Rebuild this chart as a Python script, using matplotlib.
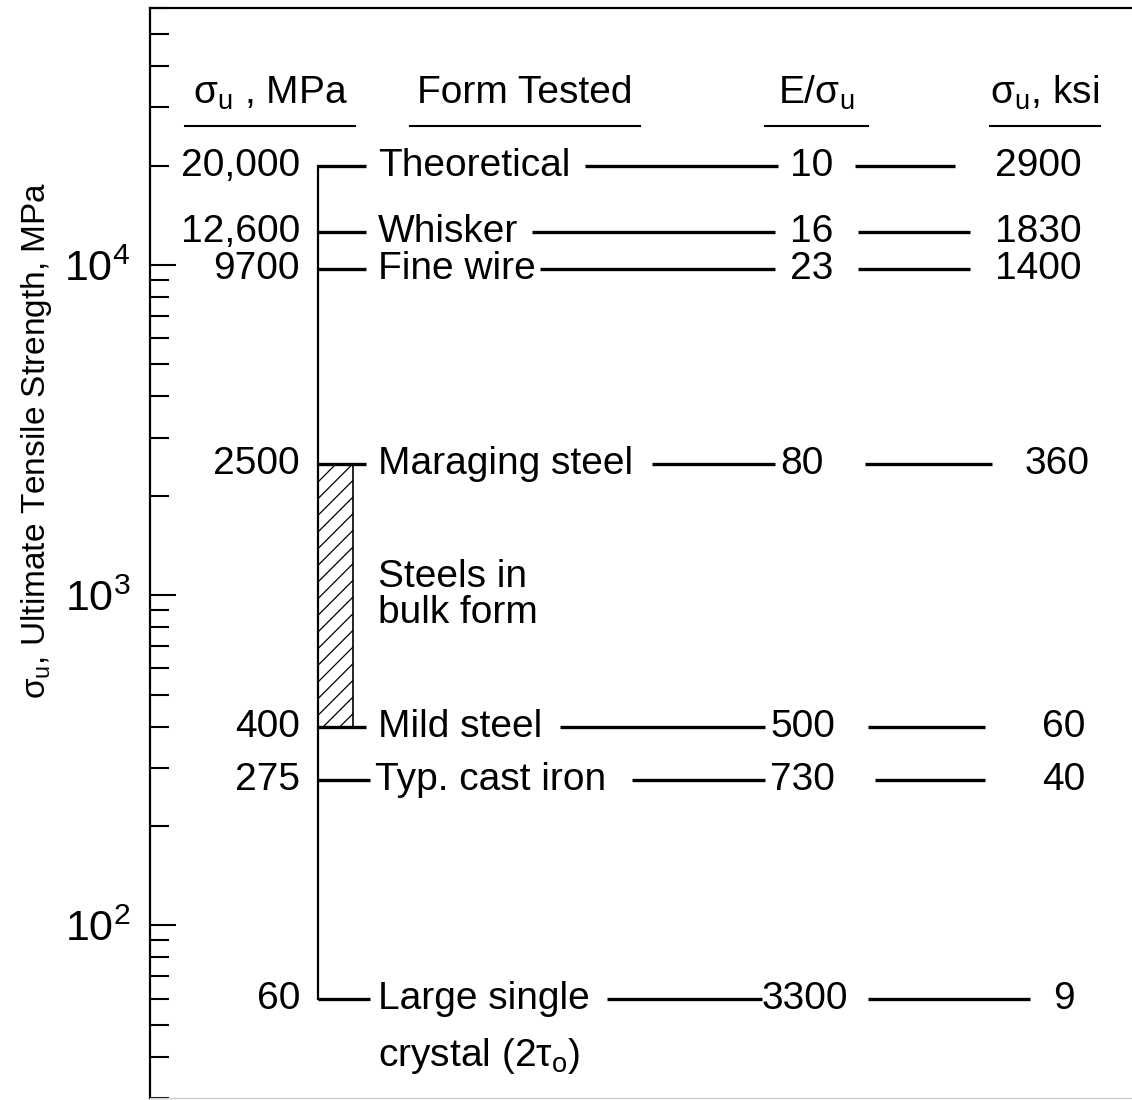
import matplotlib.pyplot as plt
from matplotlib.ticker import LogLocator, FixedLocator, FuncFormatter, NullFormatter
import numpy as np

plt.rcParams['font.family'] = ['Liberation Sans', 'DejaVu Sans']
plt.rcParams['mathtext.fontset'] = 'custom'
plt.rcParams['mathtext.rm'] = 'Liberation Sans'
plt.rcParams['mathtext.it'] = 'Liberation Sans:italic'
plt.rcParams['mathtext.bf'] = 'Liberation Sans:bold'
plt.rcParams['hatch.linewidth'] = 0.9

# data
forms = ['Theoretical', 'Whisker', 'Fine wire', 'Maraging steel',
         'Mild steel', 'Typ. cast iron', 'Large single']
sigma_mpa = [20000, 12600, 9700, 2500, 400, 275, 60]
mpa_labels = ['20,000', '12,600', '9700', '2500', '400', '275', '60']
e_ratio = ['10', '16', '23', '80', '500', '730', '3300']
sigma_ksi = ['2900', '1830', '1400', '360', '60', '40', '9']
bulk_range = [400, 2500]

# layout (x in image pixels)
seg1 = [(585, 778), (532, 775), (540, 775), (652, 775), (560, 765), (632, 765), (607, 762)]
e_x = [790, 790, 790, 780, 770, 770, 762]
seg2 = [(855, 955), (858, 970), (858, 970), (865, 992), (868, 985), (875, 985), (868, 1030)]
ksi_x = [1082, 1082, 1082, 1090, 1085, 1085, 1075]

W, H = 1132, 1100
fig = plt.figure(figsize=(W / 100, H / 100), dpi=100)
ax = fig.add_axes([150 / W, 2 / H, 1 - 150 / W, 1090 / H])
ax.set_yscale('log')
ax.set_ylim(30, 6e4)
ax.set_xlim(150, W)
ax.xaxis.set_visible(False)

for s in ['left', 'top']:
    ax.spines[s].set_linewidth(1.6)
ax.spines['right'].set_visible(False)
ax.spines['bottom'].set_color('#cccccc')
ax.spines['bottom'].set_linewidth(1.0)

ax.yaxis.set_major_locator(FixedLocator([1e2, 1e3, 1e4]))
ax.yaxis.set_major_formatter(FuncFormatter(lambda v, p: '$10^{%d}$' % round(np.log10(v))))
ax.yaxis.set_minor_locator(LogLocator(base=10, subs=range(2, 10)))
ax.yaxis.set_minor_formatter(NullFormatter())
ax.tick_params(axis='y', which='major', direction='in', length=19, width=1.5,
               labelsize=31, pad=14)
ax.tick_params(axis='y', which='minor', direction='in', length=14, width=1.5)

fs = 28
xline = 318

# main vertical line and stubs
ax.plot([xline, xline], [min(sigma_mpa), max(sigma_mpa)], color='black', lw=1.6)
ax.fill_betweenx(bulk_range, xline, 353, facecolor='white', edgecolor='black',
                 hatch='//', lw=1.2)

for i, v in enumerate(sigma_mpa):
    stub_end = 366 if i < 5 else 370
    ax.plot([xline, stub_end], [v, v], color='black', lw=2.4, solid_capstyle='butt')
    ax.text(300, v, mpa_labels[i], ha='right', va='center', fontsize=fs)
    name_x = 375 if forms[i].startswith('Typ') else 378
    ax.text(name_x, v, forms[i], ha='left', va='center', fontsize=fs)
    ax.plot(seg1[i], [v, v], color='black', lw=2.4, solid_capstyle='butt')
    ax.text(e_x[i], v, e_ratio[i], ha='left', va='center', fontsize=fs)
    ax.plot(seg2[i], [v, v], color='black', lw=2.4, solid_capstyle='butt')
    ax.text(ksi_x[i], v, sigma_ksi[i], ha='right', va='center', fontsize=fs)

ax.annotate('crystal (2τ$_\\mathrm{o}$)', xy=(378, sigma_mpa[-1]), xytext=(0, -41),
            textcoords='offset points', ha='left', va='center', fontsize=fs)
ax.text(378, (bulk_range[0] * bulk_range[1]) ** 0.5, 'Steels in\nbulk form',
        ha='left', va='center', fontsize=fs, linespacing=1.0)

# column headers
tr = ax.get_xaxis_transform()
headers = [('σ$_\\mathrm{u}$ , MPa', 185, 355), ('Form Tested', 410, 640),
           ('E/σ$_\\mathrm{u}$', 765, 868), ('σ$_\\mathrm{u}$, ksi', 990, 1100)]
for txt, x0, x1 in headers:
    ax.text((x0 + x1) / 2, 0.922, txt, transform=tr, ha='center', va='center', fontsize=fs)
    ax.plot([x0, x1], [0.8917, 0.8917], transform=tr, color='black', lw=1.5)

fig.text(37 / W, 1 - 440 / H, 'σ$_\\mathrm{u}$, Ultimate Tensile Strength, MPa',
         rotation=90, ha='center', va='center', fontsize=24)

fig.savefig('out.png', dpi=100)
